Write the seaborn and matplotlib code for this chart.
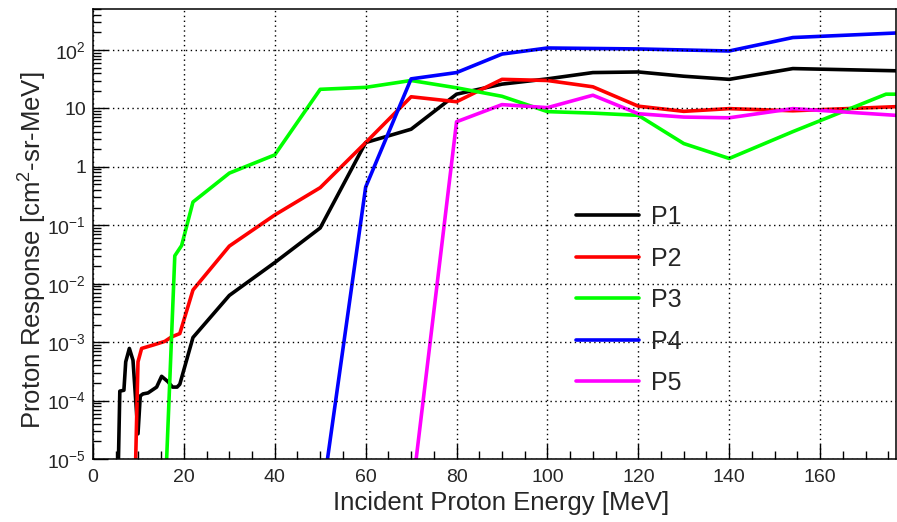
import numpy as np
import pandas as pd
import matplotlib
matplotlib.use("Agg")
import matplotlib.pyplot as plt
import matplotlib.ticker as mticker
import seaborn as sns

# ---------------- data ----------------
p1_x = [5.5, 5.9, 6.8, 7.2, 8.0, 8.8, 9.9, 10.4, 11.0, 12.1, 14.0, 15.1, 16.5, 17.5,
        18.5, 19.1, 22, 30, 40, 50, 60, 70, 80, 90, 100, 110, 120, 130, 140, 154, 176.7]
p1_y = [4e-6, 1.45e-4, 1.5e-4, 4.6e-4, 7.8e-4, 4.9e-4, 2.7e-5, 1.2e-4, 1.3e-4, 1.35e-4,
        1.7e-4, 2.6e-4, 2.1e-4, 1.7e-4, 1.7e-4, 1.9e-4, 1.2e-3, 6.3e-3, 0.023, 0.09,
        2.6, 4.4, 17.5, 26, 32, 41, 42, 35.5, 31.4, 48, 44]

p2_x = [9.3, 9.9, 10.7, 13.2, 15.8, 17.3, 19.1, 22, 30, 40, 50, 60, 70, 80, 90, 100,
        110, 120, 130, 140, 154, 176.7]
p2_y = [5e-6, 4.6e-4, 7.8e-4, 8.9e-4, 1.03e-3, 1.23e-3, 1.4e-3, 7.8e-3, 0.044, 0.15,
        0.44, 2.6, 15.8, 13, 31.4, 30, 23.4, 10.9, 8.9, 9.9, 9.1, 10.7]

p3_x = [16.0, 18.0, 19.5, 22, 30, 40, 50, 60, 70, 80, 90, 100, 110, 120, 130, 140,
        154, 174.5, 176.7]
p3_y = [4e-6, 0.03, 0.045, 0.25, 0.78, 1.6, 21.2, 22.9, 30, 22.5, 16.1, 8.8, 8.3,
        7.6, 2.5, 1.39, 4.0, 17.5, 17.5]

p4_x = [50, 60, 70, 80, 90, 100, 110, 120, 140, 154, 176.7]
p4_y = [1.3e-6, 0.45, 32, 41, 85, 108, 106, 104, 96, 163, 195]

p5_x = [70, 80, 90, 100, 110, 120, 130, 140, 154, 176.7]
p5_y = [1.9e-6, 5.9, 11.6, 10.3, 16.8, 8.1, 7.1, 6.9, 9.9, 7.6]

series_names = ["P1", "P2", "P3", "P4", "P5"]
series_colors = ["#000000", "#ff0000", "#00ff00", "#0000ff", "#ff00ff"]

x_ticks = [0, 20, 40, 60, 80, 100, 120, 140, 160]
y_ticks = [1e-5, 1e-4, 1e-3, 1e-2, 1e-1, 1, 10, 100]
y_tick_labels = [r"$10^{-5}$", r"$10^{-4}$", r"$10^{-3}$", r"$10^{-2}$",
                 r"$10^{-1}$", "1", "10", r"$10^{2}$"]

# ---------------- build frame ----------------
frames = []
for name, xs, ys in zip(series_names, [p1_x, p2_x, p3_x, p4_x, p5_x],
                        [p1_y, p2_y, p3_y, p4_y, p5_y]):
    frames.append(pd.DataFrame({"E": xs, "R": ys, "series": name,
                                "order": np.arange(len(xs))}))
df = pd.concat(frames, ignore_index=True)

# ---------------- style ----------------
sns.set_style("ticks")
plt.rcParams["font.family"] = ["Liberation Sans", "DejaVu Sans"]
plt.rcParams["mathtext.fontset"] = "custom"
plt.rcParams["mathtext.rm"] = "Liberation Sans"
plt.rcParams["mathtext.it"] = "Liberation Sans:italic"
plt.rcParams["mathtext.bf"] = "Liberation Sans:bold"

fig = plt.figure(figsize=(8.97, 5.22), dpi=100)
ax = fig.add_axes([93 / 897, 1 - 459 / 522, 803 / 897, 450 / 522])

sns.lineplot(data=df, x="E", y="R", hue="series", palette=series_colors,
             hue_order=series_names, sort=False, estimator=None, units=None,
             linewidth=2.6, ax=ax, legend=True)

ax.set_yscale("log")
ax.set_xlim(0, 176.7)
ax.set_ylim(1e-5, 502)

ax.set_xticks(x_ticks)
ax.xaxis.set_minor_locator(mticker.MultipleLocator(5))
ax.set_yticks(y_ticks)
ax.set_yticklabels(y_tick_labels)
ax.yaxis.set_minor_locator(mticker.LogLocator(base=10, subs=np.arange(2, 10), numticks=20))
ax.yaxis.set_minor_formatter(mticker.NullFormatter())

ax.tick_params(axis="both", which="major", direction="in", length=11, width=1.0,
               labelsize=14, color="black", top=False, right=False)
ax.tick_params(axis="both", which="minor", direction="in", length=5.5, width=1.0,
               color="black", top=False, right=False)
ax.tick_params(axis="x", which="major", pad=7)
ax.tick_params(axis="y", which="major", pad=5)

for s in ax.spines.values():
    s.set_visible(True)
    s.set_linewidth(1.1)
    s.set_color("black")

ax.grid(True, which="major", color="black", linestyle=(0, (1, 2.5)), linewidth=1.0)
ax.set_axisbelow(False)

ax.set_xlabel("Incident Proton Energy [MeV]", fontsize=18.5)
ax.set_ylabel(r"Proton Response [cm$^{2}$-sr-MeV]", fontsize=18.5)
ax.xaxis.label.set_va("center")
ax.yaxis.label.set_va("center")
ax.xaxis.set_label_coords(0.508, -0.098)
ax.yaxis.set_label_coords(-0.075, 0.464)

leg = ax.legend(loc="center left", bbox_to_anchor=(0.6015, 0.353), frameon=False,
                fontsize=18, handlelength=2.5, handletextpad=0.5, labelspacing=0.7,
                borderpad=0, borderaxespad=0, title=None)
for line in leg.get_lines():
    line.set_linewidth(2.6)

fig.savefig("out.png", dpi=100)
